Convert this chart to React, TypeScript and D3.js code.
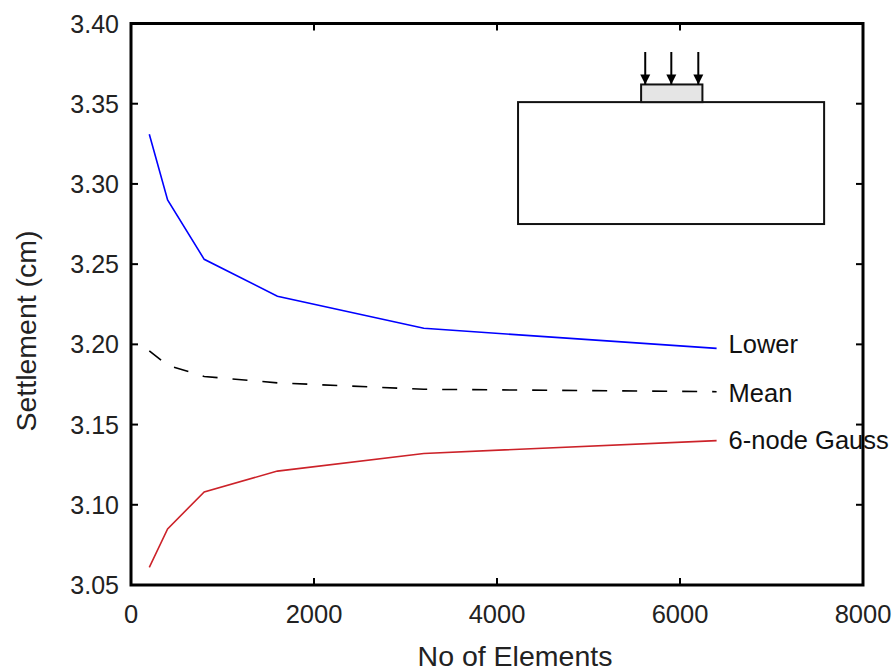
import React from "react";
import * as d3 from "d3";

const elements = [200, 400, 800, 1600, 3200, 6400];
const lower = [3.331, 3.290, 3.253, 3.230, 3.210, 3.1975];
const mean = [3.196, 3.187, 3.180, 3.176, 3.172, 3.1705];
const gauss = [3.061, 3.085, 3.108, 3.121, 3.132, 3.140];
const xTicks = [0, 2000, 4000, 6000, 8000];
const yTicks = [3.05, 3.10, 3.15, 3.20, 3.25, 3.30, 3.35, 3.40];
const seriesNames = ["Lower", "Mean", "6-node Gauss"];

const W = 896, H = 671;
const L = 131, R = 863, T = 23.5, B = 585;
const labelDy = [5, 10, 8];

export default function App() {
  const x = d3.scaleLinear().domain([0, 8000]).range([L, R]);
  const y = d3.scaleLinear().domain([3.05, 3.40]).range([B, T]);
  const line = d3.line<number>().x((_, i) => x(elements[i])).y((d) => y(d));
  const series = [
    { vals: lower, color: "#0000ff", dash: undefined },
    { vals: mean, color: "#000000", dash: "15,15" },
    { vals: gauss, color: "#cc2229", dash: undefined },
  ];
  const font = "Liberation Sans, Arial, sans-serif";
  const txt = "#222";

  // inset diagram positioned in data space
  const bx0 = x(4230), bx1 = x(7575), by0 = y(3.351), by1 = y(3.275);
  const fx0 = x(5575), fx1 = x(6245), fy0 = y(3.362);
  const arrows = [5620, 5905, 6200];
  const arrowTop = 52;

  return (
    <svg width={W} height={H} style={{ position: "absolute", left: 0, top: 0, background: "#fff" }}>
      <defs>
        <marker id="ah" viewBox="0 0 10 10" refX="10" refY="5" markerWidth="10" markerHeight="11" markerUnits="userSpaceOnUse" orient="auto">
          <path d="M0,0 L10,5 L0,10 Z" fill="#000" />
        </marker>
      </defs>
      <rect x={0} y={0} width={W} height={H} fill="#fff" />
      {series.map((s, i) => (
        <path key={i} d={line(s.vals) || ""} fill="none" stroke={s.color} strokeWidth={1.6} strokeDasharray={s.dash} />
      ))}
      {series.map((s, i) => (
        <text key={"l" + i} x={x(elements[5]) + 12} y={y(s.vals[5]) + labelDy[i]} fontFamily={font} fontSize={25.5} fill="#111">
          {seriesNames[i]}
        </text>
      ))}
      <rect x={bx0} y={by0} width={bx1 - bx0} height={by1 - by0} fill="#fff" stroke="#111" strokeWidth={2} />
      <rect x={fx0} y={fy0} width={fx1 - fx0} height={by0 - fy0} fill="#e5e5e5" stroke="#111" strokeWidth={2} />
      {arrows.map((a) => (
        <line key={a} x1={x(a)} x2={x(a)} y1={arrowTop} y2={fy0} stroke="#000" strokeWidth={2} markerEnd="url(#ah)" />
      ))}
      <rect x={L} y={T} width={R - L} height={B - T} fill="none" stroke="#000" strokeWidth={3} />
      {xTicks.map((t) => (
        <g key={"x" + t}>
          <line x1={x(t)} x2={x(t)} y1={B} y2={B - 7} stroke="#000" strokeWidth={2} />
          <line x1={x(t)} x2={x(t)} y1={T} y2={T + 7} stroke="#000" strokeWidth={2} />
          <text x={x(t)} y={B + 38} textAnchor="middle" fontFamily={font} fontSize={25.5} fill={txt}>{t}</text>
        </g>
      ))}
      {yTicks.map((t) => (
        <g key={"y" + t}>
          <line x1={L} x2={L + 7} y1={y(t)} y2={y(t)} stroke="#000" strokeWidth={2} />
          <line x1={R} x2={R - 7} y1={y(t)} y2={y(t)} stroke="#000" strokeWidth={2} />
          <text x={119} y={y(t) + 9} textAnchor="end" fontFamily={font} fontSize={25} fill={txt}>{t.toFixed(2)}</text>
        </g>
      ))}
      <text x={515} y={666} textAnchor="middle" fontFamily={font} fontSize={28.5} fill={txt}>No of Elements</text>
      <text transform={`translate(36,331) rotate(-90)`} textAnchor="middle" fontFamily={font} fontSize={28.5} fill={txt}>Settlement (cm)</text>
    </svg>
  );
}
